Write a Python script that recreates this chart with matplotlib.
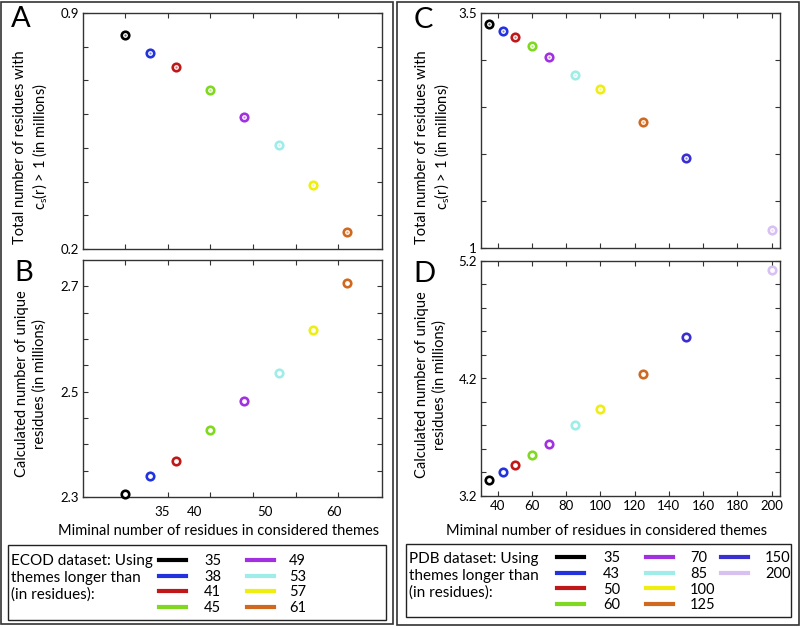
import matplotlib
matplotlib.use("Agg")
import matplotlib.pyplot as plt
from matplotlib.lines import Line2D
from matplotlib.patches import Rectangle
import numpy as np

plt.rcParams['font.family'] = ['Lato', 'DejaVu Sans']
plt.rcParams['mathtext.fontset'] = 'custom'
plt.rcParams['mathtext.rm'] = 'Lato'
plt.rcParams['mathtext.it'] = 'Lato:italic'

# ---------------- data ----------------
ecod_min = [35, 38, 41, 45, 49, 53, 57, 61]
ecod_total = [0.834, 0.781, 0.739, 0.672, 0.593, 0.509, 0.390, 0.249]
ecod_unique = [2.306, 2.340, 2.369, 2.428, 2.482, 2.535, 2.618, 2.707]
ecod_labels = ['35', '38', '41', '45', '49', '53', '57', '61']

pdb_min = [35, 43, 50, 60, 70, 85, 100, 125, 150, 200]
pdb_total = [3.387, 3.312, 3.245, 3.149, 3.035, 2.844, 2.695, 2.337, 1.954, 1.191]
pdb_unique = [3.336, 3.401, 3.463, 3.546, 3.642, 3.803, 3.937, 4.240, 4.557, 5.124]
pdb_labels = ['35', '43', '50', '60', '70', '85', '100', '125', '150', '200']

colors = ['#000000', '#2233dd', '#c01818', '#80d820', '#a030e0',
          '#a0ece8', '#eeee10', '#d06820', '#3a30d0', '#d8c0f0']

xlabel = 'Miminal number of residues in considered themes'

W, H = 802, 627
fig = plt.figure(figsize=(W / 100, H / 100), dpi=100)


def fx(px):
    return px / W


def fy(py):
    return 1 - py / H


def add_axes(l, r, t, b):
    return fig.add_axes([fx(l), fy(b), (r - l) / W, (b - t) / H])


def lighten(c, f=0.55):
    rgb = np.array(matplotlib.colors.to_rgb(c))
    return tuple(rgb + (1 - rgb) * f)


def style(ax):
    for s in ax.spines.values():
        s.set_color('#333333')
        s.set_linewidth(1.0)
    ax.tick_params(which='both', direction='in', length=3.5, width=0.8,
                   top=True, right=True, labelsize=9.5, pad=3, color='#333333')


def draw_points(ax, xs, ys, dot):
    for i, (x, y) in enumerate(zip(xs, ys)):
        ax.plot([x], [y], 'o', ms=5.4, mfc='white', mec=colors[i], mew=1.9,
                clip_on=False, zorder=3)
        if dot:
            ax.plot([x], [y], 'o', ms=1.6, mfc=lighten(colors[i], 0.4),
                    mec='none', clip_on=False, zorder=4)


# Panel A
axA = add_axes(83, 382, 13, 249)
draw_points(axA, ecod_min, ecod_total, True)
axA.set_xlim(30.1, 65.1)
axA.set_ylim(0.2, 0.9)
axA.set_yticks([0.2, 0.9], ['0.2', '0.9'])
axA.set_yticks(np.arange(0.3, 0.85, 0.1), minor=True)
axA.set_xticks([35, 40, 45, 50, 55, 60], [])
style(axA)

# Panel B
axB = add_axes(83, 382, 260, 497)
draw_points(axB, ecod_min, ecod_unique, False)
axB.set_xlim(30.1, 65.1)
axB.set_ylim(2.3, 2.75)
axB.set_yticks([2.3, 2.5, 2.7], ['2.3', '2.5', '2.7'])
axB.set_yticks([2.35, 2.4, 2.45, 2.55, 2.6, 2.65], minor=True)
axB.set_xticks([35, 40, 45, 50, 55, 60], minor=True)
axB.set_xticks([39.4, 43.2, 51.4, 59.5], ['35', '40', '50', '60'])
style(axB)
axB.tick_params(axis='x', which='major', length=0, pad=6.5)

# Panel C
axC = add_axes(481, 780, 13, 248)
draw_points(axC, pdb_min, pdb_total, True)
axC.set_xlim(30.3, 204.9)
axC.set_ylim(1, 3.5)
axC.set_yticks([1, 3.5], ['1', '3.5'])
axC.set_yticks([1.5, 2.0, 2.5, 3.0], minor=True)
axC.set_xticks(np.arange(40, 201, 20), [])
style(axC)

# Panel D
axD = add_axes(481, 780, 261, 496)
draw_points(axD, pdb_min, pdb_unique, False)
axD.set_xlim(30.3, 204.9)
axD.set_ylim(3.2, 5.2)
axD.set_yticks([3.2, 4.2, 5.2], ['3.2', '4.2', '5.2'])
axD.set_yticks(np.arange(3.4, 5.1, 0.2), minor=True)
axD.set_xticks(np.arange(40, 201, 20), [str(v) for v in range(40, 201, 20)])
style(axD)

# panel letters
for letter, (px, py) in zip('ABCD', [(21, 19), (24, 273), (423, 20), (424, 274)]):
    fig.text(fx(px), fy(py), letter, fontsize=21, ha='center', va='center')

# y labels
ylab_total = 'Total number of residues with\nc$_\\mathregular{s}$(r) > 1 (in millions)'
ylab_unique = 'Calculated number of unique\nresidues (in millions)'
for txt, (px, py) in [(ylab_total, (31, 147)), (ylab_unique, (31, 384)),
                      (ylab_total, (433, 147)), (ylab_unique, (431, 385))]:
    fig.text(fx(px), fy(py), txt, rotation=90, fontsize=10.5, ha='center',
             va='center', multialignment='center', linespacing=1.25)

# x labels
fig.text(fx(219), fy(531), xlabel, fontsize=10.5, ha='center', va='center')
fig.text(fx(607), fy(531), xlabel, fontsize=10.5, ha='center', va='center')

# frames
fig.patches.append(Rectangle((fx(1), fy(624)), 392 / W, 622 / H, transform=fig.transFigure,
                             fill=False, ec='#333333', lw=1.2))
fig.patches.append(Rectangle((fx(397), fy(625)), 402 / W, 623 / H, transform=fig.transFigure,
                             fill=False, ec='#333333', lw=1.2))
# legend boxes
fig.patches.append(Rectangle((fx(8), fy(620)), 378 / W, 75 / H, transform=fig.transFigure,
                             fill=False, ec='#222222', lw=1.0))
fig.patches.append(Rectangle((fx(406), fy(617)), 385 / W, 73 / H, transform=fig.transFigure,
                             fill=False, ec='#222222', lw=1.0))

# legend title texts
fig.text(fx(11), fy(554), 'ECOD dataset: Using\nthemes longer than\n(in residues):',
         fontsize=11, ha='left', va='top', linespacing=1.25)
fig.text(fx(409), fy(552), 'PDB dataset: Using\nthemes longer than\n(in residues):',
         fontsize=11, ha='left', va='top', linespacing=1.25)


def column_legend(idx, labels, x0, ytop, gap):
    handles = [Line2D([], [], color=colors[i], lw=3) for i in idx]
    labs = [labels[i] for i in idx]
    leg = fig.legend(handles, labs, loc='upper left',
                     bbox_to_anchor=(fx(x0), fy(ytop)), bbox_transform=fig.transFigure,
                     frameon=False, borderpad=0, borderaxespad=0, fontsize=10.5,
                     handlelength=27 / 14.6, handletextpad=gap / 14.6,
                     labelspacing=0.12)
    return leg


column_legend([0, 1, 2, 3], ecod_labels, 159, 554, 18)
column_legend([4, 5, 6, 7], ecod_labels, 247, 554, 15)
column_legend([0, 1, 2, 3], pdb_labels, 557, 551, 19)
column_legend([4, 5, 6, 7], pdb_labels, 646, 551, 17)
column_legend([8, 9], pdb_labels, 721, 551, 17)

fig.savefig('out.png', dpi=100)
